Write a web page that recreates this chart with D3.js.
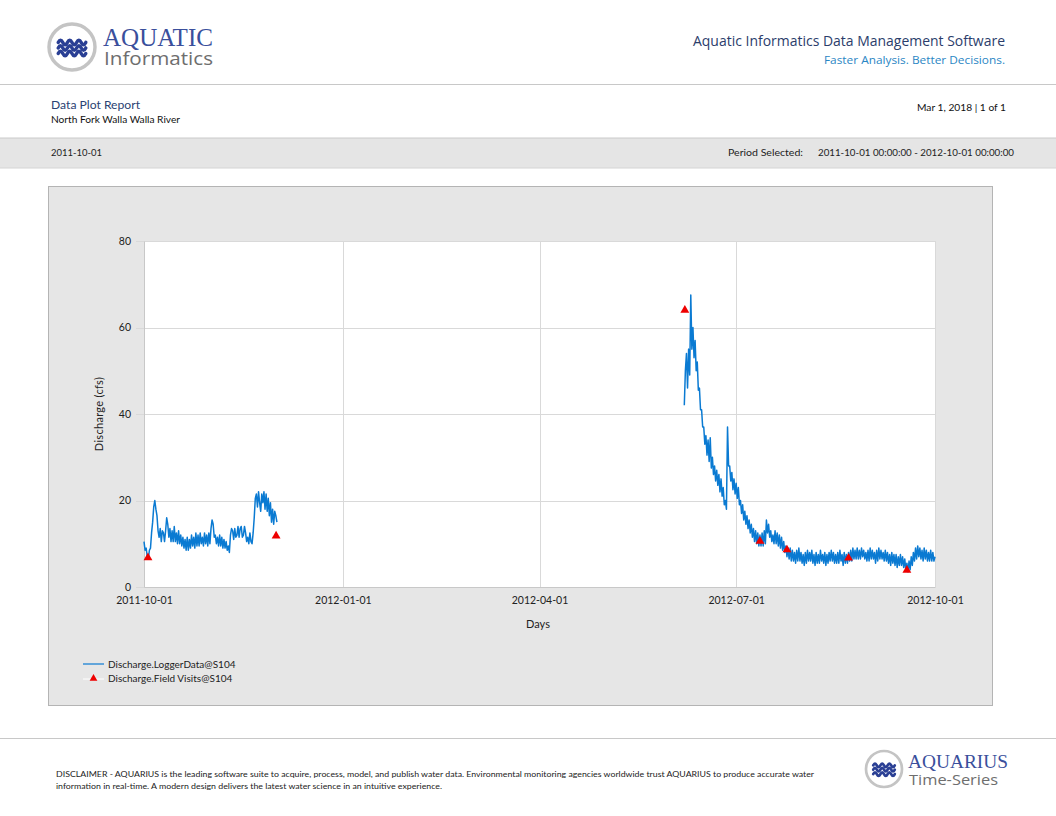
<!DOCTYPE html>
<html><head><meta charset="utf-8">
<script src="https://cdn.jsdelivr.net/npm/d3@7"></script>
<style>
html,body{margin:0;padding:0;background:#fff;}
svg{display:block;font-family:Lato,"Open Sans",sans-serif;}
</style></head>
<body>
<svg id="c" width="1056" height="816"></svg>
<script>
// ---------- DATA ----------
const yTicks = [0, 20, 40, 60, 80];
const xTickLabels = ["2011-10-01", "2012-01-01", "2012-04-01", "2012-07-01", "2012-10-01"];
const seriesNames = ["Discharge.LoggerData@S104", "Discharge.Field Visits@S104"];

// Logger data, 12-hour steps
const logger1Start = "2011-10-01T00:00";
const logger1Values = [
 10.5, 8.5, 9, 7, 6.5, 8.5, 9, 12.5, 15, 18.5, 20, 18, 16.5, 13, 11.5, 13.5, 10.5, 13, 12.5, 10.5,
 13, 16, 14.5, 11.5, 13.5, 10.5, 13, 10.5, 14, 10.5, 12.5, 10, 13, 10, 12, 9.5, 11.5, 9, 11, 8.5,
 11.5, 8.5, 11, 9, 12, 9.5, 11.5, 9, 12.5, 9.5, 12, 9.5, 12.5, 10, 11.5, 9.5, 12.5, 10, 12, 9.5,
 12.5, 10, 13.5, 15.5, 14.5, 11.5, 12, 10, 11.5, 9.5, 12, 9.5, 11.5, 9, 11, 9, 10.5, 8.5, 9.5, 8,
 12, 13.5, 13, 11, 13.5, 11.5, 12, 14, 11.5, 13.5, 14, 11.5, 12, 14, 12.5, 10.5, 11.5, 10, 12.5, 10.5,
 10, 12.5, 16, 20.5, 21.5, 18.5, 22, 19.5, 17.5, 21.5, 19.5, 22, 18, 21.5, 17.5, 20.5, 16.5, 19.5, 15, 18,
 14.5, 17.5, 16.5, 15
];
const logger2Start = "2012-06-07T00:00";
const logger2Values = [
 42, 50, 54, 46, 55, 49, 67.5, 55, 60, 53, 57, 50, 52, 45.5, 46, 41, 41, 37, 37, 33,
 35, 30.5, 34, 29, 34.5, 27.5, 30, 26, 28, 24.5, 27, 23.5, 26, 22, 25, 21, 23, 19, 20, 18,
 37, 28, 28, 24.5, 26.5, 22.5, 25, 21.5, 24, 20.5, 23, 19, 20, 17, 19, 15.5, 17.5, 14.5, 16.5, 13.5,
 15.5, 12.5, 14.5, 11.5, 13.5, 10.5, 13, 10, 12.5, 9.5, 12, 9.5, 12.5, 9.5, 13, 10, 15.5, 12.5, 14.5, 11.5,
 13, 10.5, 12, 10, 13, 10, 12.5, 9.5, 12, 9, 11.5, 8.5, 10.5, 8, 9.5, 7, 9, 6.5, 9, 6,
 8.5, 6, 8, 5.5, 8.5, 6, 9, 6, 8, 5.5, 7.5, 5, 8, 5.5, 8.5, 6, 8, 6, 8.5, 5.5,
 7.5, 5, 8, 5.5, 7.5, 5.5, 8.5, 6, 7.5, 5.5, 8, 5, 7.5, 5.5, 8, 6, 8.5, 6, 8, 5.5,
 7.5, 5.5, 8, 5.5, 8.5, 6, 7.5, 5, 8, 5.5, 7.5, 5.5, 8, 6, 8.5, 6, 9, 6.5, 8.5, 6.5,
 9, 6.5, 8.5, 6.5, 9, 7, 8.5, 6.5, 8, 6, 8.5, 6, 9, 6.5, 8.5, 6.5, 8, 5.5, 8.5, 6,
 9, 6.5, 8.5, 6.5, 8, 6, 8.5, 6, 8, 5.5, 7.5, 5, 8, 5.5, 7.5, 5, 7.5, 4.5, 7, 5,
 7.5, 5, 7, 4.5, 6.5, 4, 5.5, 3.5, 6, 4, 7, 5, 8, 6, 9, 6.5, 9.5, 7, 9, 6.5,
 8.5, 6, 9, 6.5, 8.5, 6, 8, 6, 8.5, 6, 8, 6, 7
];
// Field visits
const visitDates = ["2011-10-02T20:00", "2011-12-01T03:00", "2012-06-07T06:00", "2012-07-12T00:00", "2012-07-24T12:00", "2012-08-22T00:00", "2012-09-18T00:00"];
const visitValues = [6.8, 11.8, 64.0, 10.6, 8.6, 6.7, 3.9];

// ---------- DRAW ----------
const parseT = d3.utcParse("%Y-%m-%dT%H:%M");
const parseD = d3.utcParse("%Y-%m-%d");
const fmtD = d3.utcFormat("%Y-%m-%d");
const svg = d3.select("#c");

function mkSeries(start, vals) {
  const t0 = parseT(start);
  return vals.map((v, i) => ({t: d3.utcHour.offset(t0, 12 * i), v}));
}
const seg1 = mkSeries(logger1Start, logger1Values);
const seg2 = mkSeries(logger2Start, logger2Values);
const visits = visitDates.map((d, i) => ({t: parseT(d), v: visitValues[i]}));

// header
const navy = "#2b3d6b";
function logo(g, cx, cy, r) {
  g.append("circle").attr("cx", cx).attr("cy", cy).attr("r", r).attr("fill", "#fff")
    .attr("stroke", "#c4c4c4").attr("stroke-width", r * 0.15);
  const w = r * 1.2, x0 = cx - w / 2;
  [-0.2, 0.04, 0.28].forEach(dy => {
    const y = cy + dy * r;
    const n = 3, seg = w / n, a = r * 0.1;
    let p = `M${x0},${y}`;
    for (let i = 0; i < n; i++) {
      p += ` q${seg / 4},${-a * 2} ${seg / 2},0 t${seg / 2},0`;
    }
    g.append("path").attr("d", p).attr("fill", "none").attr("stroke", "#2a3f94")
      .attr("stroke-width", r * 0.15).attr("stroke-linecap", "round");
  });
}
logo(svg.append("g"), 72, 47, 23);
svg.append("text").attr("x", 103).attr("y", 45.5).text("AQUATIC")
  .attr("font-family", "'Liberation Serif',serif").attr("font-size", 25).attr("fill", "#3a4f9c")
  .attr("textLength", 110).attr("lengthAdjust", "spacingAndGlyphs");
svg.append("text").attr("x", 104).attr("y", 65).text("Informatics")
  .attr("font-family", "'Open Sans',sans-serif").attr("font-size", 19).attr("fill", "#6e6e6e")
  .attr("textLength", 109).attr("lengthAdjust", "spacingAndGlyphs");

svg.append("text").attr("x", 1005).attr("y", 46).attr("text-anchor", "end")
  .text("Aquatic Informatics Data Management Software")
  .attr("font-family", "'Open Sans',sans-serif").attr("font-size", 14).attr("fill", navy)
  .attr("textLength", 312).attr("lengthAdjust", "spacingAndGlyphs");
svg.append("text").attr("x", 1005).attr("y", 64).attr("text-anchor", "end")
  .text("Faster Analysis. Better Decisions.")
  .attr("font-family", "'Open Sans',sans-serif").attr("font-size", 11.5).attr("fill", "#2a86c4")
  .attr("textLength", 181).attr("lengthAdjust", "spacingAndGlyphs");
svg.append("line").attr("x1", 0).attr("x2", 1056).attr("y1", 84.5).attr("y2", 84.5).attr("stroke", "#c8c8c8");

svg.append("text").attr("x", 51).attr("y", 108.5).text("Data Plot Report")
  .attr("font-size", 11.5).attr("fill", "#2a4272").attr("textLength", 89).attr("lengthAdjust", "spacingAndGlyphs");
svg.append("text").attr("x", 51).attr("y", 122.5).text("North Fork Walla Walla River")
  .attr("font-size", 9.5).attr("fill", "#111").attr("textLength", 129).attr("lengthAdjust", "spacingAndGlyphs");
svg.append("text").attr("x", 1006).attr("y", 111).attr("text-anchor", "end").text("Mar 1, 2018 | 1 of 1")
  .attr("font-size", 9.5).attr("fill", "#111").attr("textLength", 89).attr("lengthAdjust", "spacingAndGlyphs");

svg.append("rect").attr("x", 0).attr("y", 138).attr("width", 1056).attr("height", 30).attr("fill", "#e5e5e5");
svg.append("line").attr("x1", 0).attr("x2", 1056).attr("y1", 138).attr("y2", 138).attr("stroke", "#cacaca");
svg.append("line").attr("x1", 0).attr("x2", 1056).attr("y1", 168).attr("y2", 168).attr("stroke", "#d4d4d4");
svg.append("text").attr("x", 51).attr("y", 156).text("2011-10-01")
  .attr("font-size", 9.5).attr("fill", "#222").attr("textLength", 51).attr("lengthAdjust", "spacingAndGlyphs");
svg.append("text").attr("x", 728).attr("y", 156).text("Period Selected:")
  .attr("font-size", 9.5).attr("fill", "#222").attr("textLength", 75).attr("lengthAdjust", "spacingAndGlyphs");
svg.append("text").attr("x", 818).attr("y", 156).text("2011-10-01 00:00:00 - 2012-10-01 00:00:00")
  .attr("font-size", 9.5).attr("fill", "#222").attr("textLength", 196).attr("lengthAdjust", "spacingAndGlyphs");

// chart box
svg.append("rect").attr("x", 48.5).attr("y", 186.5).attr("width", 944).attr("height", 519)
  .attr("fill", "#e6e6e6").attr("stroke", "#b4b4b4");

const x = d3.scaleUtc().domain([parseD(xTickLabels[0]), parseD(xTickLabels[xTickLabels.length - 1])]).range([144, 935]);
const y = d3.scaleLinear().domain([0, 80]).range([587, 241]);

svg.append("rect").attr("x", x.range()[0]).attr("y", y(80)).attr("width", x.range()[1] - x.range()[0])
  .attr("height", y(0) - y(80)).attr("fill", "#fff");

// gridlines
const grid = svg.append("g").attr("stroke", "#d9d9d9").attr("stroke-width", 1);
yTicks.forEach(v => grid.append("line").attr("x1", 136).attr("x2", 935)
  .attr("y1", Math.round(y(v)) + 0.5).attr("y2", Math.round(y(v)) + 0.5));
xTickLabels.forEach(s => grid.append("line").attr("x1", Math.round(x(parseD(s))) + 0.5).attr("x2", Math.round(x(parseD(s))) + 0.5)
  .attr("y1", y(80)).attr("y2", y(0)));

// axes (labels through d3 axes)
const yAxis = d3.axisLeft(y).tickValues(yTicks).tickSize(0).tickPadding(13);
const gy = svg.append("g").attr("transform", "translate(144,0)").call(yAxis);
gy.select(".domain").attr("stroke", "#c8c8c8");
gy.selectAll("text").attr("font-family", "Lato,sans-serif").attr("font-size", 10.5).attr("fill", "#222");

const xAxis = d3.axisBottom(x).tickValues(xTickLabels.map(parseD)).tickFormat(fmtD).tickSize(0).tickPadding(10);
const gx = svg.append("g").attr("transform", "translate(0,587)").call(xAxis);
gx.select(".domain").attr("stroke", "#c8c8c8");
gx.selectAll("text").attr("font-family", "Lato,sans-serif").attr("font-size", 10.5).attr("fill", "#222");

svg.append("text").attr("x", 538).attr("y", 628).attr("text-anchor", "middle").text("Days")
  .attr("font-size", 11).attr("fill", "#222");
svg.append("text").attr("transform", "translate(103,414) rotate(-90)").attr("text-anchor", "middle")
  .text("Discharge (cfs)").attr("font-size", 11).attr("fill", "#222").attr("letter-spacing", 0.3);

// series
const line = d3.line().x(d => x(d.t)).y(d => y(d.v));
[seg1, seg2].forEach(s => svg.append("path").datum(s).attr("d", line)
  .attr("fill", "none").attr("stroke", "#0a7ad2").attr("stroke-width", 1.5).attr("stroke-linejoin", "round"));

const tri = d3.symbol().type(d3.symbolTriangle).size(34);
svg.append("g").selectAll("path").data(visits).join("path")
  .attr("transform", d => `translate(${x(d.t)},${y(d.v)})`).attr("d", tri).attr("fill", "#ee0000");

// legend
svg.append("line").attr("x1", 83).attr("x2", 104).attr("y1", 664).attr("y2", 664).attr("stroke", "#0a7ad2").attr("stroke-width", 1.2);
svg.append("text").attr("x", 108).attr("y", 667.5).text(seriesNames[0]).attr("font-size", 10).attr("fill", "#222");
svg.append("line").attr("x1", 83).attr("x2", 104).attr("y1", 679).attr("y2", 679).attr("stroke", "#fff").attr("stroke-width", 1);
svg.append("path").attr("transform", "translate(93.5,678.5)").attr("d", d3.symbol().type(d3.symbolTriangle).size(26)).attr("fill", "#ee0000");
svg.append("text").attr("x", 108).attr("y", 681.5).text(seriesNames[1]).attr("font-size", 10).attr("fill", "#222");

// footer
svg.append("line").attr("x1", 0).attr("x2", 1056).attr("y1", 738.5).attr("y2", 738.5).attr("stroke", "#c8c8c8");
svg.append("text").attr("x", 56).attr("y", 777)
  .text("DISCLAIMER - AQUARIUS is the leading software suite to acquire, process, model, and publish water data. Environmental monitoring agencies worldwide trust AQUARIUS to produce accurate water")
  .attr("font-size", 7.5).attr("fill", "#222").attr("textLength", 758).attr("lengthAdjust", "spacingAndGlyphs");
svg.append("text").attr("x", 56).attr("y", 788.5)
  .text("information in real-time. A modern design delivers the latest water science in an intuitive experience.")
  .attr("font-size", 7.5).attr("fill", "#222").attr("textLength", 386).attr("lengthAdjust", "spacingAndGlyphs");
logo(svg.append("g"), 884, 769, 18);
svg.append("text").attr("x", 908).attr("y", 767.5).text("AQUARIUS")
  .attr("font-family", "'Liberation Serif',serif").attr("font-size", 18).attr("fill", "#3a4f9c")
  .attr("textLength", 100).attr("lengthAdjust", "spacingAndGlyphs");
svg.append("text").attr("x", 909).attr("y", 785).text("Time-Series")
  .attr("font-family", "'Open Sans',sans-serif").attr("font-size", 14.5).attr("fill", "#6e6e6e")
  .attr("textLength", 89).attr("lengthAdjust", "spacingAndGlyphs");
</script>
</body></html>
